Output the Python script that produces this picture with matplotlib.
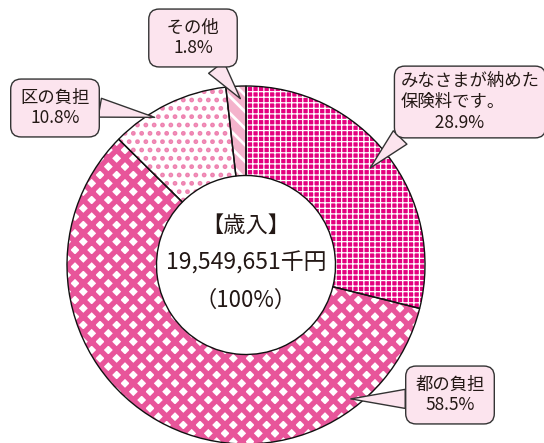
import matplotlib
matplotlib.use('Agg')
import numpy as np
import matplotlib.pyplot as plt

plt.rcParams['font.family'] = ['Noto Sans CJK JP', 'DejaVu Sans']

# data
labels = ['保険料', '都の負担', '区の負担', 'その他']
shares = [28.9, 58.5, 10.8, 1.8]
box_texts = ['みなさまが納めた\n保険料です。\n\u3000\u300028.9%',
             '都の負担\n58.5%',
             '区の負担\n10.8%',
             '\u2002その他\u2002\n1.8%']
total_text = '19,549,651千円'

# styles
faces = ['#e4007f', 'white', 'white', '#f4b3cc']
hatch_colors = ['white', '#e8559a', '#ee82b0', 'white']
hatches = ['+++', 'xx', '..', '\\\\']
hatch_lws = [0.9, 3.9, 2.2, 2.0]
box_fc = '#fce4ee'
text_color = '#231815'

W, H = 544, 443
cx, cy, R = 246, 265, 179


def fig_xy(px, py):
    return (px / W, 1 - py / H)


fig = plt.figure(figsize=(W / 100, H / 100), dpi=100)
ax = fig.add_axes([0, 0, 1, 1])

wedges, _ = ax.pie(shares, startangle=90, counterclock=False,
                   wedgeprops=dict(width=0.5, linewidth=0))
for w, fc, hc, h, hlw in zip(wedges, faces, hatch_colors, hatches, hatch_lws):
    w.set_facecolor(fc)
    w.set_edgecolor(hc)
    w.set_linewidth(0)
    w.set_hatch(h)
    try:
        w.set_hatch_linewidth(hlw)
    except AttributeError:
        plt.rcParams['hatch.linewidth'] = hlw

# outlines on top
ax.pie(shares, startangle=90, counterclock=False,
       wedgeprops=dict(width=0.5, fill=False, edgecolor='#111111', linewidth=1.0))

ax.set_xlim(-cx / R, (W - cx) / R)
ax.set_ylim(-(H - cy) / R, cy / R)
ax.set_aspect('auto')
ax.axis('off')

# centre text
ax.text(0, (cy - 225) / R, '【歳入】', ha='center', va='center', fontsize=16, color=text_color)
ax.text(0, (cy - 263) / R, total_text, ha='center', va='center', fontsize=16.5, color=text_color)
ax.text(0, (cy - 300) / R, '（100%）', ha='center', va='center', fontsize=16, color=text_color)

# callouts: where the pointer touches the wedge (fraction along wedge, radius)
tip_frac = [0.5, 0.18, 0.35, 0.7]
tip_r = [0.88, 0.95, 0.97, 0.93]
box_pos = [(470, 102), (450, 395), (55, 108), (193, 38)]
relpos = [(0.1, 0.15), (0.05, 0.4), (0.85, 0.6), (0.7, 0.05)]
aligns = ['left', 'center', 'center', 'center']
pads = [0.35, 0.55, 0.55, 0.55]

for w, txt, f, r, bp, rp, al, pd in zip(wedges, box_texts, tip_frac, tip_r,
                                        box_pos, relpos, aligns, pads):
    ang = np.deg2rad(w.theta2 - f * (w.theta2 - w.theta1))
    tip = (r * np.cos(ang), r * np.sin(ang))
    ax.annotate(txt, xy=tip, xycoords='data',
                xytext=fig_xy(*bp), textcoords='figure fraction',
                ha='center', va='center', multialignment=al,
                fontsize=12.5, color=text_color, linespacing=1.2,
                bbox=dict(boxstyle=f'round,pad={pd},rounding_size=0.6',
                          fc=box_fc, ec='#333333', lw=1.0),
                arrowprops=dict(arrowstyle='wedge,tail_width=1.1,shrink_factor=0.5',
                                fc=box_fc, ec='#333333', lw=1.0,
                                relpos=rp, shrinkA=0, shrinkB=0))

fig.savefig('out.png', dpi=100)
